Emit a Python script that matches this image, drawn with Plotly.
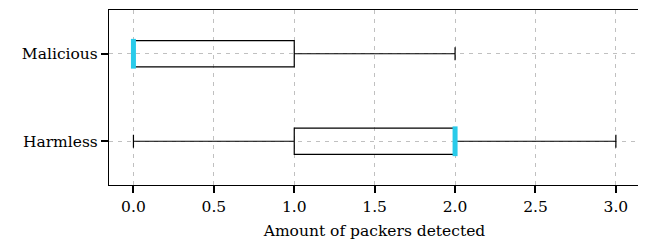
import plotly.graph_objects as go

categories = ["Harmless", "Malicious"]
positions = [0, 1]
lower_fence = [0, 0]
q1 = [1, 0]
median = [2, 0]
q3 = [2, 1]
upper_fence = [3, 2]
x_ticks = [0.0, 0.5, 1.0, 1.5, 2.0, 2.5, 3.0]
x_tick_labels = ["0.0", "0.5", "1.0", "1.5", "2.0", "2.5", "3.0"]

BOX_W = 0.3
FONT = "DejaVu Serif"
FS = 15.5

fig = go.Figure()
for i, cat in enumerate(categories):
    fig.add_trace(go.Box(
        orientation="h",
        y=[positions[i]],
        q1=[q1[i]], median=[median[i]], q3=[q3[i]],
        lowerfence=[lower_fence[i]], upperfence=[upper_fence[i]],
        width=BOX_W,
        whiskerwidth=0.5,
        line=dict(color="black", width=1.2),
        fillcolor="rgba(255,255,255,0)",
        boxpoints=False,
        showlegend=False,
        name=cat,
        hoverinfo="skip",
    ))
    half = BOX_W / 2 + 0.02
    fig.add_trace(go.Scatter(
        x=[median[i], median[i]],
        y=[positions[i] - half, positions[i] + half],
        mode="lines",
        line=dict(color="#29CBEA", width=5),
        showlegend=False,
        hoverinfo="skip",
    ))

fig.update_layout(
    width=638, height=243,
    margin=dict(l=101, r=6, t=2, b=66, autoexpand=False),
    plot_bgcolor="white", paper_bgcolor="white",
    font=dict(family=FONT, size=FS, color="black"),
)
fig.update_xaxes(
    range=[-0.152, 3.15],
    tickvals=x_ticks, ticktext=x_tick_labels,
    showline=True, linecolor="black", linewidth=1.2, mirror=True,
    ticks="outside", ticklen=7, tickwidth=1.5, tickcolor="black",
    showgrid=True, gridcolor="#c0c0c0", griddash="4px,5px", gridwidth=1,
    zeroline=False,
    title=dict(text="Amount of packers detected", font=dict(family=FONT, size=FS, color="black"), standoff=10),
    tickfont=dict(family=FONT, size=FS, color="black"),
)
fig.update_yaxes(
    range=[-0.5, 1.5],
    tickvals=positions, ticktext=categories,
    showline=True, linecolor="black", linewidth=1.2, mirror=True,
    ticks="outside", ticklen=7, tickwidth=1.5, tickcolor="black",
    showgrid=True, gridcolor="#c0c0c0", griddash="4px,5px", gridwidth=1,
    zeroline=False,
    tickfont=dict(family=FONT, size=FS, color="black"),
)

fig.write_html("out.html")
